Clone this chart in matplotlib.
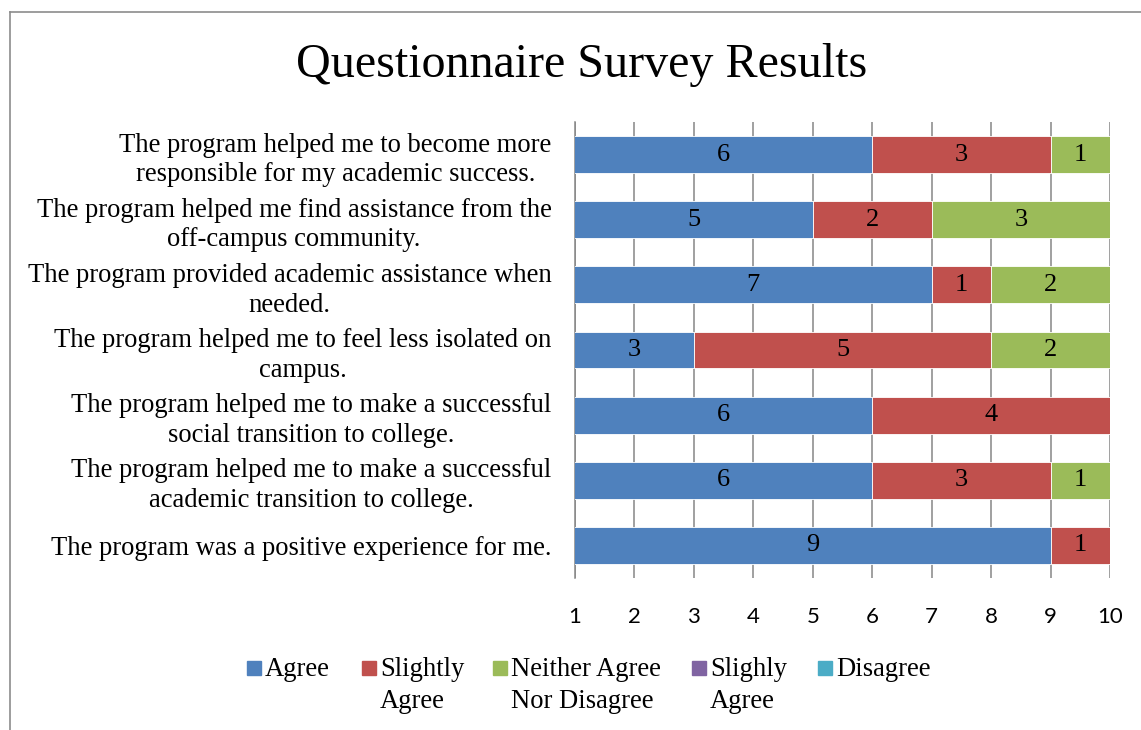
import matplotlib
matplotlib.use("Agg")
import matplotlib.pyplot as plt
from matplotlib.patches import Rectangle
from matplotlib.lines import Line2D
import numpy as np

# Data (Excel order: first category is at the bottom)
categories = [
    "The program was a positive experience for me.",
    "The program helped me to make a successful\nacademic transition to college.",
    "The program helped me to make a successful\nsocial transition to college.",
    "The program helped me to feel less isolated on\ncampus.",
    "The program provided academic assistance when\nneeded.",
    "The program helped me find assistance from the\noff-campus community.",
    "The program helped me to become more\nresponsible for my academic success.",
]
series_names = ["Agree", "Slightly\nAgree", "Neither Agree\nNor Disagree", "Slighly\nAgree", "Disagree"]
agree = [9, 6, 6, 3, 7, 5, 6]
slightly_agree = [1, 3, 4, 5, 1, 2, 3]
neither = [0, 1, 0, 2, 2, 3, 1]
slighly_agree = [0, 0, 0, 0, 0, 0, 0]
disagree = [0, 0, 0, 0, 0, 0, 0]
series_values = [agree, slightly_agree, neither, slighly_agree, disagree]
colors = ["#4F81BD", "#C0504D", "#9BBB59", "#8064A2", "#4BACC6"]
x_ticks = [1, 2, 3, 4, 5, 6, 7, 8, 9, 10]

serif = "Liberation Serif"
sans = "Lato"

W, H = 1141, 730
fig = plt.figure(figsize=(W / 100, H / 100), dpi=100)
ax = fig.add_axes([575 / W, 1 - 578 / H, (1110 - 575) / W, (578 - 122) / H])

XMIN, XMAX = 1, 10
y = np.arange(len(categories))
left = np.zeros(len(categories))
for vals, col in zip(series_values, colors):
    vals = np.array(vals, dtype=float)
    ax.barh(y, vals, left=left, height=0.565, color=col, edgecolor="white",
            linewidth=0.6, zorder=3)
    for yi, l, v in zip(y, left, vals):
        if v > 0:
            a = max(l, XMIN)
            b = min(l + v, XMAX)
            ax.text((a + b) / 2, yi, f"{int(v)}", ha="center", va="center",
                    fontsize=19, family=serif, color="black", zorder=4)
    left = left + vals

ax.set_xlim(XMIN, XMAX)
ax.set_ylim(-0.5, len(categories) - 0.5)
ax.set_xticks(x_ticks)
ax.set_xticklabels([str(t) for t in x_ticks], fontsize=16, family=sans)
ax.set_yticks(y)
ax.set_yticklabels(categories, fontsize=19.2, family=serif)
for lab in ax.get_yticklabels():
    lab.set_multialignment("center")
    lab.set_linespacing(1.25)
ax.tick_params(axis="x", length=0, pad=21)
ax.tick_params(axis="y", length=0, pad=17)
ax.grid(axis="x", color="#868686", linewidth=1.1, zorder=1)
for s in ["top", "right", "bottom"]:
    ax.spines[s].set_visible(False)
ax.spines["left"].set_color("#868686")
ax.spines["left"].set_linewidth(1.1)

fig.text(582 / W, 1 - 65 / H, "Questionnaire Survey Results", ha="center",
         va="center", fontsize=34.6, family=serif)

# Legend (manual)
sq_x = [247, 362, 493, 692, 818]
for name, col, sx in zip(series_names, colors, sq_x):
    fig.add_artist(Rectangle((sx / W, 1 - 675 / H), 14 / W, 14 / H,
                             transform=fig.transFigure, color=col))
    fig.text((sx + 18) / W, 1 - 657 / H, name, ha="left", va="top",
             fontsize=19.2, family=serif, linespacing=1.38)

# Outer chart border (partially visible)
fig.add_artist(Line2D([10 / W, 10 / W], [0, 1 - 12 / H], transform=fig.transFigure,
                      color="#8c8c8c", linewidth=1.2))
fig.add_artist(Line2D([10 / W, 1], [1 - 12 / H, 1 - 12 / H], transform=fig.transFigure,
                      color="#8c8c8c", linewidth=1.2))

fig.savefig("out.png", dpi=100)
